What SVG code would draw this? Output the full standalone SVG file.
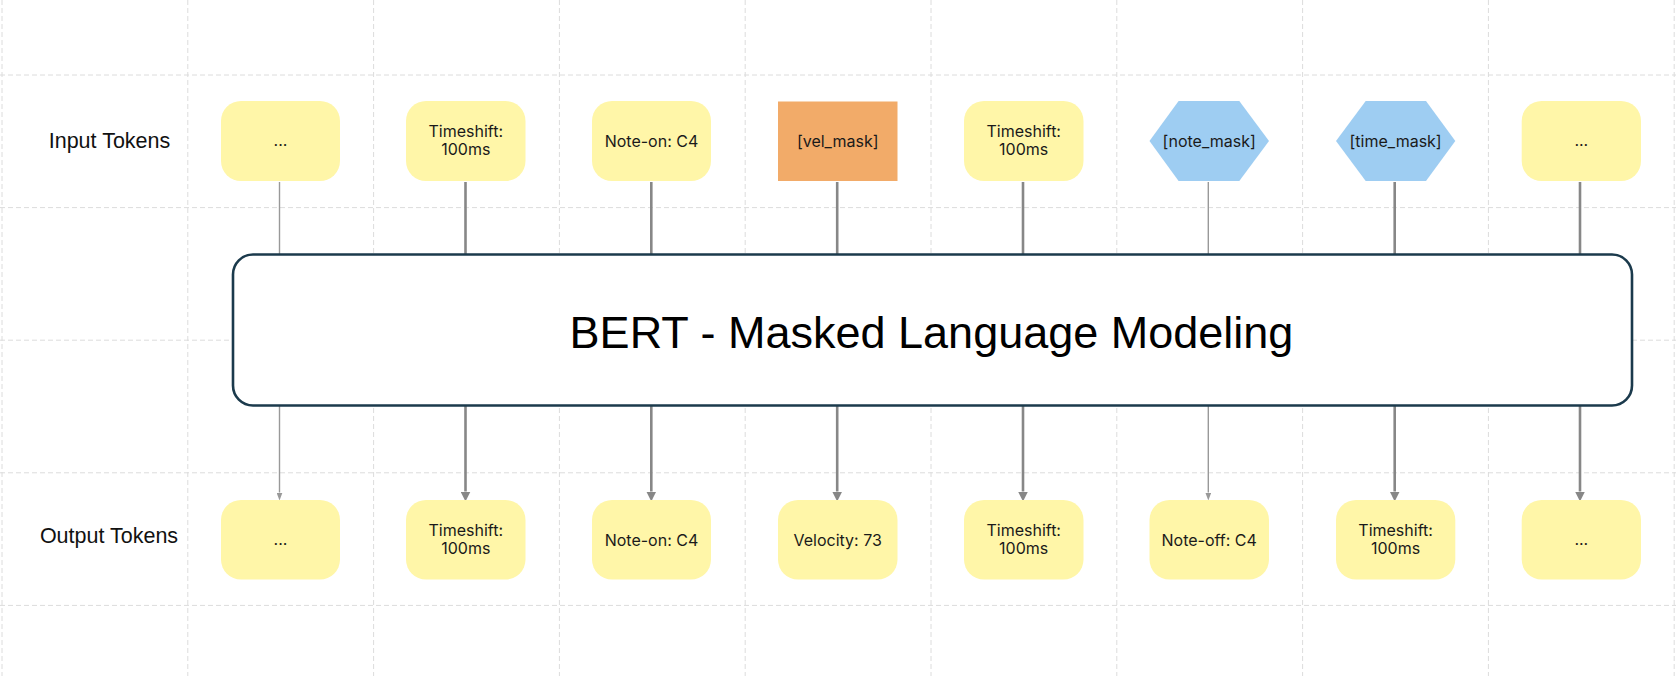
<svg xmlns="http://www.w3.org/2000/svg" width="1676" height="676" viewBox="0 0 1676 676">
  <style>
    .grid line { stroke: #dcdcdc; stroke-width: 1; stroke-dasharray: 5 3; }
    .tok { fill: #fff6a8; }
    .mask-o { fill: #f2ab69; }
    .mask-b { fill: #9ecdf2; }
    .t { font-family: Inter, "Noto Sans", "Liberation Sans", sans-serif; font-size: 16px; fill: #1a1a1a; text-anchor: middle; }
    .lbl { font-family: "Liberation Sans", Arial, sans-serif; font-size: 21.5px; fill: #111; text-anchor: middle; }
    .title { font-family: "Liberation Sans", Arial, sans-serif; font-size: 45px; fill: #000; text-anchor: middle; }
    .thick { stroke: #878787; stroke-width: 2.6; fill: none; }
    .thin { stroke: #999999; stroke-width: 1.4; fill: none; }
  </style>
  <defs>
    <marker id="ah" markerUnits="userSpaceOnUse" markerWidth="10" markerHeight="10" viewBox="0 0 9 9" refX="0" refY="4.5" orient="auto">
      <path d="M0,0 L9,4.5 L0,9 z" fill="#878787"/>
    </marker>
    <marker id="ahs" markerUnits="userSpaceOnUse" markerWidth="8" markerHeight="6" viewBox="0 0 8 6" refX="0" refY="3" orient="auto">
      <path d="M0,0 L8,3 L0,6 z" fill="#999999"/>
    </marker>
  </defs>
  <rect x="0" y="0" width="1676" height="676" fill="#ffffff"/>
  <g class="grid">
    <line x1="2" y1="0" x2="2" y2="676"/>
    <line x1="187.8" y1="0" x2="187.8" y2="676"/>
    <line x1="373.6" y1="0" x2="373.6" y2="676"/>
    <line x1="559.4" y1="0" x2="559.4" y2="676"/>
    <line x1="745.2" y1="0" x2="745.2" y2="676"/>
    <line x1="931" y1="0" x2="931" y2="676"/>
    <line x1="1116.8" y1="0" x2="1116.8" y2="676"/>
    <line x1="1302.6" y1="0" x2="1302.6" y2="676"/>
    <line x1="1488.4" y1="0" x2="1488.4" y2="676"/>
    <line x1="1674.2" y1="0" x2="1674.2" y2="676"/>
    <line x1="0" y1="75" x2="1676" y2="75"/>
    <line x1="0" y1="207.6" x2="1676" y2="207.6"/>
    <line x1="0" y1="340.2" x2="1676" y2="340.2"/>
    <line x1="0" y1="472.8" x2="1676" y2="472.8"/>
    <line x1="0" y1="605.4" x2="1676" y2="605.4"/>
  </g>

  <text class="lbl" x="109.5" y="148.3">Input Tokens</text>
  <text class="lbl" x="109" y="542.7">Output Tokens</text>

  <g id="connectors">
    <line class="thin" x1="279.5" y1="182" x2="279.5" y2="255"/>
    <line class="thick" x1="465.5" y1="182" x2="465.5" y2="255"/>
    <line class="thick" x1="651.3" y1="182" x2="651.3" y2="255"/>
    <line class="thick" x1="837.2" y1="182" x2="837.2" y2="255"/>
    <line class="thick" x1="1023" y1="182" x2="1023" y2="255"/>
    <line class="thin" x1="1208.3" y1="182" x2="1208.3" y2="255"/>
    <line class="thick" x1="1394.7" y1="182" x2="1394.7" y2="255"/>
    <line class="thick" x1="1580" y1="182" x2="1580" y2="255"/>

    <line class="thin" x1="279.5" y1="405" x2="279.5" y2="492.5" marker-end="url(#ahs)"/>
    <line class="thick" x1="465.5" y1="405" x2="465.5" y2="491.5" marker-end="url(#ah)"/>
    <line class="thick" x1="651.3" y1="405" x2="651.3" y2="491.5" marker-end="url(#ah)"/>
    <line class="thick" x1="837.2" y1="405" x2="837.2" y2="491.5" marker-end="url(#ah)"/>
    <line class="thick" x1="1023" y1="405" x2="1023" y2="491.5" marker-end="url(#ah)"/>
    <line class="thin" x1="1208.3" y1="405" x2="1208.3" y2="492.5" marker-end="url(#ahs)"/>
    <line class="thick" x1="1394.7" y1="405" x2="1394.7" y2="491.5" marker-end="url(#ah)"/>
    <line class="thick" x1="1580" y1="405" x2="1580" y2="491.5" marker-end="url(#ah)"/>
  </g>

  <g id="bert">
    <rect x="233" y="254.5" width="1399" height="151" rx="20" ry="20" fill="#ffffff" stroke="#1b3a4c" stroke-width="2.6"/>
    <text class="title" x="931.5" y="347.5">BERT - Masked Language Modeling</text>
  </g>

  <!-- Input tokens -->
  <g id="in1"><rect class="tok" x="221" y="101" width="119" height="80" rx="20"/><text class="t" x="280.5" y="146">...</text></g>
  <g id="in2"><rect class="tok" x="406" y="101" width="119.5" height="80" rx="20"/><text class="t" x="465.8" y="136.5">Timeshift:</text><text class="t" x="465.8" y="155">100ms</text></g>
  <g id="in3"><rect class="tok" x="592" y="101" width="119" height="80" rx="20"/><text class="t" x="651.5" y="146.5">Note-on: C4</text></g>
  <g id="in4"><rect class="mask-o" x="778" y="101.5" width="119.5" height="79.5"/><text class="t" x="837.7" y="146.5">[vel_mask]</text></g>
  <g id="in5"><rect class="tok" x="964" y="101" width="119.5" height="80" rx="20"/><text class="t" x="1023.7" y="136.5">Timeshift:</text><text class="t" x="1023.7" y="155">100ms</text></g>
  <g id="in6"><polygon class="mask-b" points="1149.5,141 1178.6,101 1239.3,101 1269,141 1239.3,181 1178.6,181"/><text class="t" x="1209.2" y="146.5">[note_mask]</text></g>
  <g id="in7"><polygon class="mask-b" points="1336,141 1365.7,101 1426,101 1455.3,141 1426,181 1365.7,181"/><text class="t" x="1395.6" y="146.5">[time_mask]</text></g>
  <g id="in8"><rect class="tok" x="1521.7" y="101" width="119.3" height="80" rx="20"/><text class="t" x="1581.3" y="146">...</text></g>

  <!-- Output tokens -->
  <g id="out1"><rect class="tok" x="221" y="500" width="119" height="79.5" rx="20"/><text class="t" x="280.5" y="545">...</text></g>
  <g id="out2"><rect class="tok" x="406" y="500" width="119.5" height="79.5" rx="20"/><text class="t" x="465.8" y="535.5">Timeshift:</text><text class="t" x="465.8" y="554">100ms</text></g>
  <g id="out3"><rect class="tok" x="592" y="500" width="119" height="79.5" rx="20"/><text class="t" x="651.5" y="545.5">Note-on: C4</text></g>
  <g id="out4"><rect class="tok" x="778" y="500" width="119.5" height="79.5" rx="20"/><text class="t" x="837.7" y="545.5">Velocity: 73</text></g>
  <g id="out5"><rect class="tok" x="964" y="500" width="119.5" height="79.5" rx="20"/><text class="t" x="1023.7" y="535.5">Timeshift:</text><text class="t" x="1023.7" y="554">100ms</text></g>
  <g id="out6"><rect class="tok" x="1149.5" y="500" width="119.5" height="79.5" rx="20"/><text class="t" x="1209.2" y="545.5">Note-off: C4</text></g>
  <g id="out7"><rect class="tok" x="1336" y="500" width="119.3" height="79.5" rx="20"/><text class="t" x="1395.6" y="535.5">Timeshift:</text><text class="t" x="1395.6" y="554">100ms</text></g>
  <g id="out8"><rect class="tok" x="1521.7" y="500" width="119.3" height="79.5" rx="20"/><text class="t" x="1581.3" y="545">...</text></g>
</svg>
